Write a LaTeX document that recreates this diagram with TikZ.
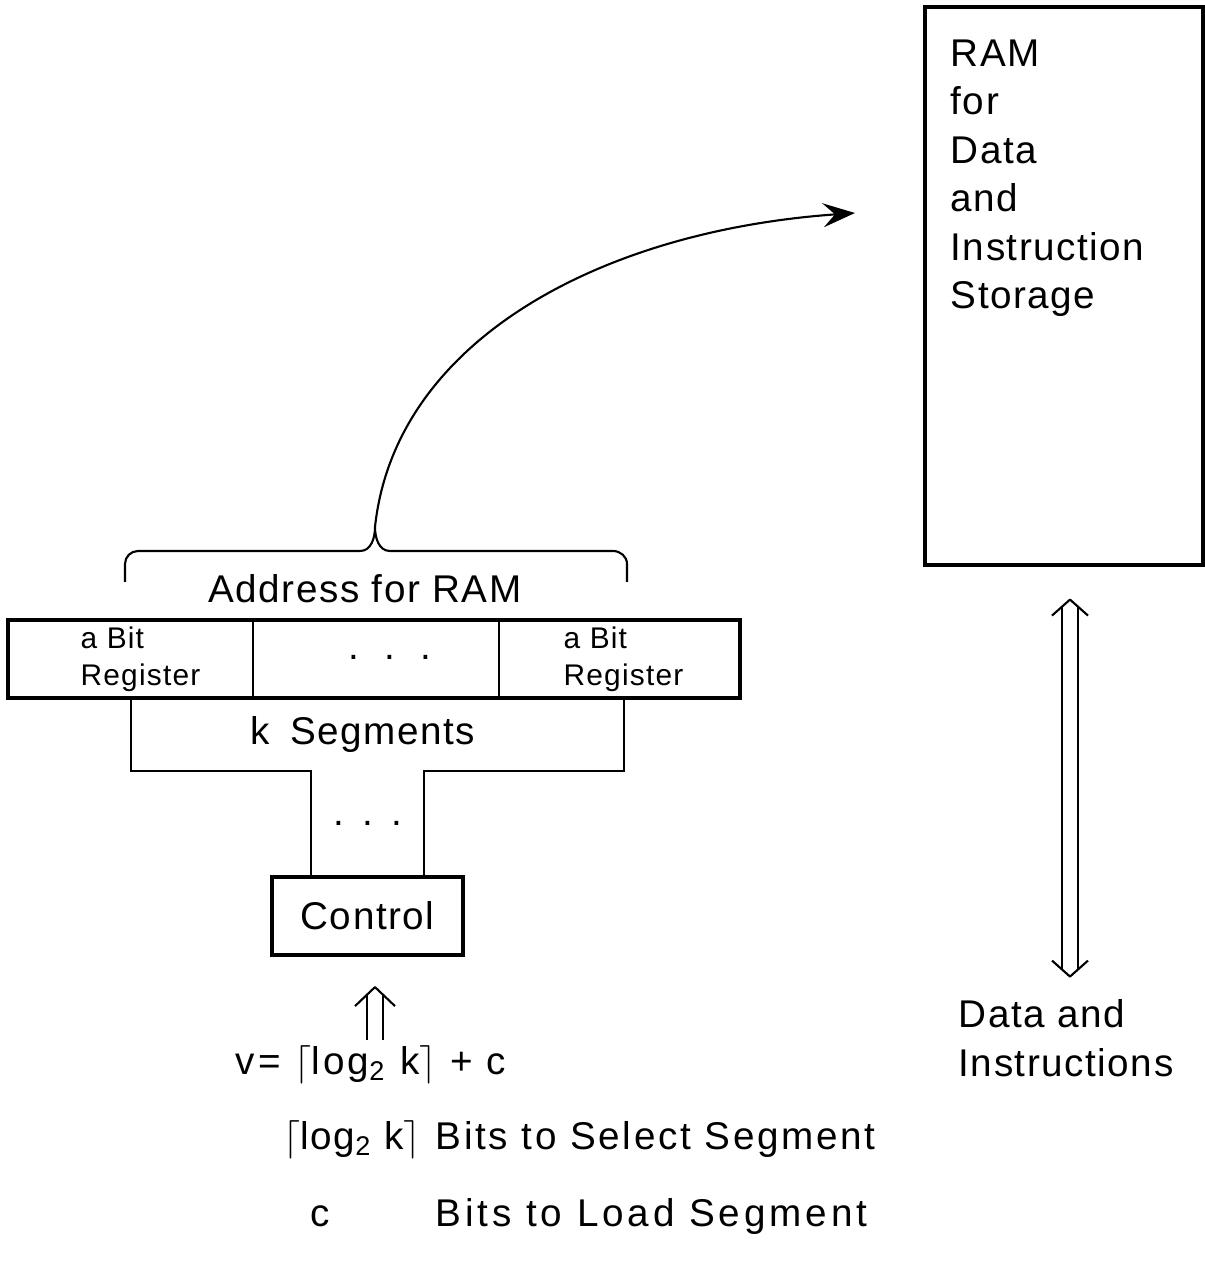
\documentclass[tikz,border=0pt]{standalone}
\usepackage{fontspec}
\setmainfont[LetterSpace=4]{Liberation Sans}
\usetikzlibrary{arrows.meta}

\begin{document}
\begin{tikzpicture}[
  txt/.style={font=\fontsize{11}{13.8}\selectfont, inner sep=0pt},
  wide/.style={font=\fontsize{11}{13.8}\selectfont\addfontfeatures{LetterSpace=#1}, inner sep=0pt},
  small/.style={font=\fontsize{8.5}{10.5}\selectfont, inner sep=0pt, align=left},
  box/.style={draw, line width=1.2pt, inner sep=0pt},
  wire/.style={line width=0.6pt},
  dbl/.style={double, double distance=4pt, line width=0.5pt},
  chev/.style={line width=0.6pt, line join=round}
]
  \useasboundingbox (0,0) rectangle (12.05,12.61);

  % RAM box
  \node[box, line width=0.9pt, minimum width=2.78cm, minimum height=5.58cm] (ram) at (10.64,9.75) {};
  \node[txt, align=left, anchor=north west] (ramtxt) at (9.5,12.22) {RAM\\for\\Data\\and\\Instruction\\Storage};

  % register row
  \node[box, minimum width=7.32cm, minimum height=0.78cm] (reg) at (3.74,6.02) {};
  \draw[wire] ([xshift=2.47cm]reg.north west) -- ([xshift=2.47cm]reg.south west);
  \draw[wire] ([xshift=-2.43cm]reg.north east) -- ([xshift=-2.43cm]reg.south east);
  \node[small, anchor=west] (regl) at (0.8,6.02) {a Bit\\Register};
  \node[small, anchor=west] (regr) at (5.63,6.02) {a Bit\\Register};
  \node[txt] (regdots) at (3.9,6.04) {.\hspace{0.25cm}.\hspace{0.25cm}.};

  % brace
  \coordinate (btip) at (3.75,7.34);
  \draw[wire] (1.25,6.79) -- (1.25,6.97) to[out=90,in=180] (1.38,7.1) -- (3.6,7.1)
    to[out=0,in=-90] (btip) to[out=-90,in=180] (3.9,7.1) -- (6.13,7.1)
    to[out=0,in=90] (6.27,6.97) -- (6.27,6.79);
  \node[txt] (addr) at (3.65,6.72) {Address for RAM};

  % address to RAM
  \coordinate (ramin) at (8.55,10.48);
  \draw[wire, -{Stealth[length=3.2mm,width=2.4mm,inset=1.2mm]}] (btip) .. controls (3.95,9.2) and (6.0,10.3) .. (ramin);

  % segments and control
  \node[txt] (kseg) at (3.63,5.26) {k\hspace{0.2cm}Segments};
  \node[box, txt, draw, line width=1.2pt, minimum width=1.91cm, minimum height=0.78cm] (ctrl) at (3.675,3.45) {Control};
  \draw[wire] ([xshift=1.25cm]reg.south west) -- ++(0,-0.71) -| ([xshift=0.41cm]ctrl.north west);
  \draw[wire] ([xshift=-1.18cm]reg.south east) -- ++(0,-0.71) -| ([xshift=-0.41cm]ctrl.north east);
  \node[txt] (cdots) at (3.68,4.38) {.\hspace{0.18cm}.\hspace{0.18cm}.};

  % input to control
  \coordinate (vin) at (3.75,2.21);
  \coordinate (vtip) at ([xshift=0.075cm,yshift=-0.3cm]ctrl.south);
  \draw[dbl] (vin) -- ([yshift=-0.07cm]vtip);
  \draw[chev] ([shift={(-0.2,-0.19)}]vtip) -- (vtip) -- ([shift={(0.2,-0.19)}]vtip);

  \node[wide=8, anchor=base west] (vform) at (2.35,1.86) {v= \ensuremath{\lceil}log\textsubscript{2} k\ensuremath{\rceil} + c};
  \node[txt, anchor=base west] (logk) at (2.83,1.11) {\ensuremath{\lceil}log\textsubscript{2} k\ensuremath{\rceil}};
  \node[wide=7, anchor=base west] (selbits) at (4.35,1.11) {Bits to Select Segment};
  \node[txt, anchor=base] (cbits) at (3.2,0.34) {c};
  \node[wide=10, anchor=base west] (loadbits) at (4.35,0.34) {Bits to Load Segment};

  % data path
  \coordinate (dtop) at ([xshift=0.06cm,yshift=-0.33cm]ram.south);
  \coordinate (dbot) at ([yshift=-3.77cm]dtop);
  \draw[dbl] ([yshift=-0.07cm]dtop) -- ([yshift=0.07cm]dbot);
  \draw[chev] ([shift={(-0.18,-0.16)}]dtop) -- (dtop) -- ([shift={(0.18,-0.16)}]dtop);
  \draw[chev] ([shift={(-0.18,0.16)}]dbot) -- (dbot) -- ([shift={(0.18,0.16)}]dbot);
  \node[txt, align=left, anchor=north west] (dlabel) at (9.58,2.62) {Data and\\Instructions};
\end{tikzpicture}
\end{document}
